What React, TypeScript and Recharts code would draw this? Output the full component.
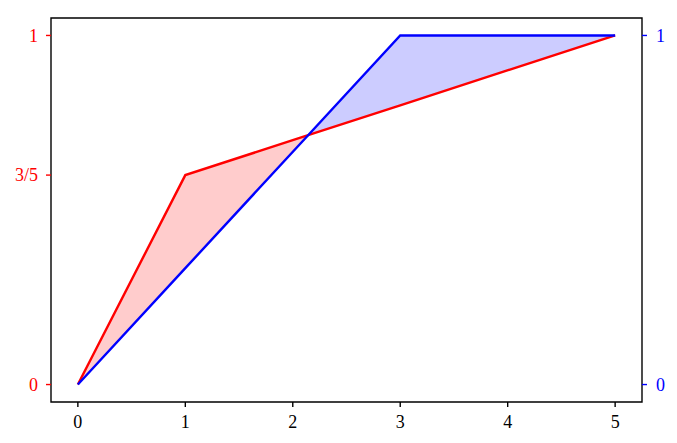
import { ComposedChart, Line, Area, XAxis, YAxis, ReferenceArea } from "recharts"

// red series (left axis)
const redX = [0, 1, 5]
const redY = [0, 0.6, 1]
// blue series (right axis)
const blueX = [0, 3, 5]
const blueY = [0, 1, 1]

const xTicks = [0, 1, 2, 3, 4, 5]
const leftTicks = [0, 0.6, 1]
const leftLabels = ["0", "3/5", "1"]
const rightTicks = [0, 1]
const rightLabels = ["0", "1"]

const RED = "#ff0000"
const BLUE = "#0000ff"
const FONT = "'Liberation Serif', serif"

// value of a polyline at x
const valueAt = (xs: number[], ys: number[], x: number) => {
  for (let i = 0; i < xs.length - 1; i++) {
    if (x >= xs[i] && x <= xs[i + 1]) {
      const t = (x - xs[i]) / (xs[i + 1] - xs[i])
      return ys[i] + t * (ys[i + 1] - ys[i])
    }
  }
  return ys[ys.length - 1]
}

// common x grid for the fill between both lines, with crossing points added
const buildTable = () => {
  const xs = Array.from(new Set([...redX, ...blueX])).sort((a, b) => a - b)
  const all: number[] = [xs[0]]
  for (let i = 0; i < xs.length - 1; i++) {
    const a = xs[i]
    const b = xs[i + 1]
    const da = valueAt(redX, redY, a) - valueAt(blueX, blueY, a)
    const db = valueAt(redX, redY, b) - valueAt(blueX, blueY, b)
    if (da * db < 0) all.push(a + (da / (da - db)) * (b - a))
    all.push(b)
  }
  return all.map((x) => {
    const r = valueAt(redX, redY, x)
    const bl = valueAt(blueX, blueY, x)
    const lo = Math.min(r, bl)
    return { x, red: r, blue: bl, redBand: [lo, r], blueBand: [lo, bl] }
  })
}

const data = buildTable()

export default function App() {
  return (
    <div style={{ position: "absolute", left: 0, top: 0, width: 677, height: 443, background: "#fff" }}>
      <ComposedChart width={677} height={443} data={data} margin={{ top: 18, right: 0, bottom: 0, left: 0 }}>
        <XAxis
          dataKey="x"
          type="number"
          domain={[-0.25, 5.25]}
          ticks={xTicks}
          height={41}
          axisLine={false}
          tickSize={5}
          tickMargin={8}
          tickLine={{ stroke: "#000", strokeWidth: 1.4 }}
          tick={{ fill: "#000", fontSize: 18, fontFamily: FONT }}
        />
        <YAxis
          yAxisId="left"
          type="number"
          domain={[-0.05, 1.05]}
          ticks={leftTicks}
          tickFormatter={(v: number) => leftLabels[leftTicks.indexOf(v)]}
          width={51}
          axisLine={false}
          tickSize={5}
          tickMargin={8}
          tickLine={{ stroke: RED, strokeWidth: 1.4 }}
          tick={{ fill: RED, fontSize: 18, fontFamily: FONT }}
        />
        <YAxis
          yAxisId="right"
          orientation="right"
          type="number"
          domain={[-0.05, 1.05]}
          ticks={rightTicks}
          tickFormatter={(v: number) => rightLabels[rightTicks.indexOf(v)]}
          width={35}
          axisLine={false}
          tickSize={5}
          tickMargin={9}
          tickLine={{ stroke: BLUE, strokeWidth: 1.4 }}
          tick={{ fill: BLUE, fontSize: 18, fontFamily: FONT }}
        />
        <Area
          yAxisId="left"
          dataKey="redBand"
          type="linear"
          stroke="none"
          fill={RED}
          fillOpacity={0.2}
          isAnimationActive={false}
        />
        <Area
          yAxisId="right"
          dataKey="blueBand"
          type="linear"
          stroke="none"
          fill={BLUE}
          fillOpacity={0.2}
          isAnimationActive={false}
        />
        <Line yAxisId="left" dataKey="red" type="linear" stroke={RED} strokeWidth={2.4} dot={false} isAnimationActive={false} />
        <Line yAxisId="right" dataKey="blue" type="linear" stroke={BLUE} strokeWidth={2.4} dot={false} isAnimationActive={false} />
        <ReferenceArea
          yAxisId="left"
          x1={-0.25}
          x2={5.25}
          y1={-0.05}
          y2={1.05}
          fill="none"
          stroke="#000"
          strokeWidth={1.4}
          ifOverflow="visible"
        />
      </ComposedChart>
    </div>
  )
}
